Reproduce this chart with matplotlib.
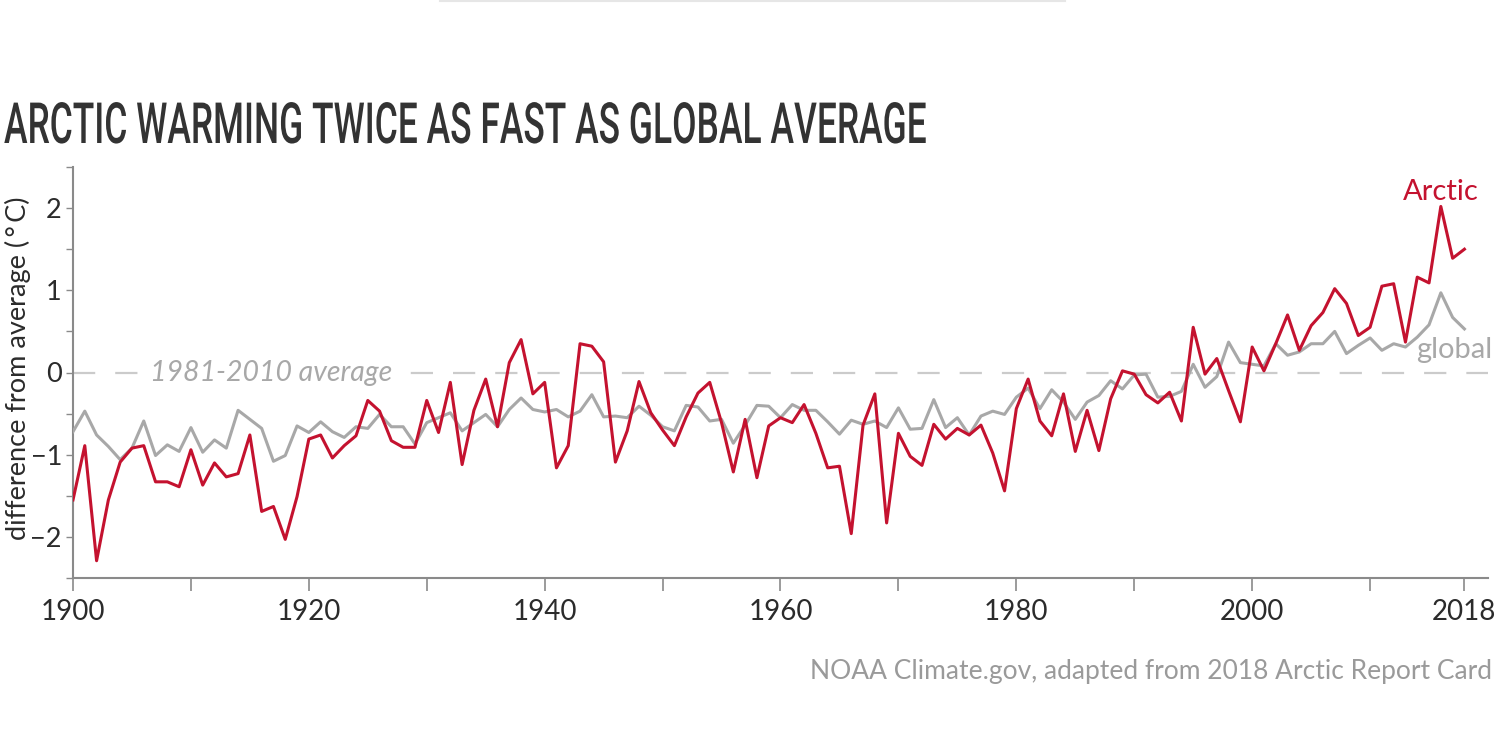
import matplotlib
matplotlib.use("Agg")
import matplotlib.pyplot as plt
from matplotlib.ticker import MultipleLocator, FixedLocator
from matplotlib.patheffects import AbstractPathEffect
from matplotlib.transforms import Affine2D

years = list(range(1900, 2019))

arctic = [
    -1.55, -0.89, -2.29, -1.55, -1.09, -0.92, -0.89, -1.33, -1.33, -1.39,
    -0.94, -1.37, -1.10, -1.27, -1.23, -0.76, -1.69, -1.63, -2.03, -1.51,
    -0.81, -0.76, -1.04, -0.89, -0.77, -0.34, -0.47, -0.83, -0.91, -0.91,
    -0.34, -0.73, -0.12, -1.12, -0.46, -0.08, -0.66, 0.12, 0.40, -0.26,
    -0.12, -1.16, -0.89, 0.35, 0.32, 0.13, -1.09, -0.71, -0.11, -0.49,
    -0.70, -0.89, -0.54, -0.25, -0.12, -0.61, -1.21, -0.57, -1.28, -0.65,
    -0.55, -0.61, -0.39, -0.74, -1.16, -1.14, -1.96, -0.64, -0.26, -1.83,
    -0.74, -1.02, -1.13, -0.63, -0.81, -0.68, -0.76, -0.64, -0.98, -1.44,
    -0.44, -0.08, -0.59, -0.77, -0.26, -0.96, -0.46, -0.95, -0.32, 0.02,
    -0.02, -0.27, -0.37, -0.24, -0.59, 0.55, -0.02, 0.17, -0.22, -0.60,
    0.31, 0.02, 0.35, 0.70, 0.27, 0.57, 0.73, 1.02, 0.84, 0.45,
    0.55, 1.05, 1.08, 0.37, 1.16, 1.09, 2.02, 1.39, 1.50,
]

global_avg = [
    -0.72, -0.47, -0.76, -0.90, -1.06, -0.92, -0.59, -1.01, -0.88, -0.96,
    -0.67, -0.97, -0.82, -0.92, -0.46, -0.57, -0.68, -1.08, -1.01, -0.65,
    -0.73, -0.60, -0.72, -0.79, -0.66, -0.68, -0.51, -0.66, -0.66, -0.87,
    -0.61, -0.55, -0.49, -0.71, -0.61, -0.51, -0.66, -0.45, -0.31, -0.45,
    -0.48, -0.45, -0.54, -0.47, -0.27, -0.54, -0.53, -0.55, -0.41, -0.52,
    -0.66, -0.71, -0.40, -0.42, -0.59, -0.57, -0.86, -0.64, -0.40, -0.41,
    -0.55, -0.39, -0.46, -0.46, -0.60, -0.75, -0.58, -0.63, -0.59, -0.67,
    -0.43, -0.69, -0.68, -0.33, -0.67, -0.55, -0.76, -0.53, -0.47, -0.51,
    -0.30, -0.19, -0.44, -0.21, -0.36, -0.57, -0.36, -0.28, -0.10, -0.20,
    -0.03, -0.02, -0.30, -0.29, -0.23, 0.10, -0.18, -0.05, 0.37, 0.12,
    0.10, 0.08, 0.35, 0.21, 0.25, 0.35, 0.35, 0.50, 0.23, 0.33,
    0.42, 0.27, 0.35, 0.31, 0.43, 0.58, 0.97, 0.67, 0.53,
]

x_ticks = [1900, 1910, 1920, 1930, 1940, 1950, 1960, 1970, 1980, 1990, 2000, 2010, 2018]
x_labels = ["1900", "", "1920", "", "1940", "", "1960", "", "1980", "", "2000", "", "2018"]

RED = "#c4122f"
GREY = "#a8a8a8"
AXIS = "#8a8a8a"
TEXT = "#2b2b2b"
FONT = ["Lato", "DejaVu Sans"]


class Squeeze(AbstractPathEffect):
    """squash text horizontally around x0 (display px) to fake a condensed face"""
    def __init__(self, sx, x0):
        super().__init__()
        self.sx = sx
        self.x0 = x0

    def draw_path(self, renderer, gc, tpath, affine, rgbFace=None):
        t = affine + Affine2D().translate(-self.x0, 0).scale(self.sx, 1).translate(self.x0, 0)
        renderer.draw_path(gc, tpath, t, rgbFace)


fig = plt.figure(figsize=(15, 7.5), dpi=100)
ax = fig.add_axes([73 / 1500, 1 - 578 / 750, (1488 - 73) / 1500, (578 - 167) / 750])

ax.axhline(0, color="#cbcbcb", lw=1.6, dashes=(10, 9), zorder=1)
ax.plot(years, global_avg, color=GREY, lw=2.2, zorder=3)
ax.plot(years, arctic, color=RED, lw=2.2, zorder=4)

ax.set_xlim(1900, 2020)
ax.set_ylim(-2.5, 2.5)

for s in ["top", "right"]:
    ax.spines[s].set_visible(False)
for s in ["left", "bottom"]:
    ax.spines[s].set_color(AXIS)
    ax.spines[s].set_linewidth(1.5)

ax.xaxis.set_major_locator(FixedLocator(x_ticks))
ax.set_xticklabels(x_labels)
ax.yaxis.set_major_locator(MultipleLocator(1))
ax.yaxis.set_minor_locator(MultipleLocator(0.5))
ax.tick_params(axis="x", length=9, width=1.2, color=AXIS, pad=6,
               labelsize=20, labelcolor=TEXT)
ax.tick_params(axis="y", which="both", length=5, width=1.0, color=AXIS, pad=3,
               labelsize=19.5, labelcolor=TEXT)
for lab in ax.get_xticklabels() + ax.get_yticklabels():
    lab.set_family(FONT)

ax.set_ylabel("difference from average (\u2009°\u2009C)", fontsize=19.5,
              color=TEXT, family=FONT)
ax.yaxis.set_label_coords((31 - 73) / 1415, 0.51)

ax.text(1906.5, 0, "1981-2010 average", fontsize=20.5, style="italic",
        color=GREY, family=FONT, va="center", ha="left",
        bbox=dict(facecolor="white", edgecolor="none", pad=2), zorder=2)
ax.text(2019.2, 2.2, "Arctic", fontsize=21, color=RED, family=FONT,
        ha="right", va="center")
ax.text(2020.4, 0.27, "global", fontsize=21, color=GREY, family=FONT,
        ha="right", va="center")

# title: no condensed face installed, so size it to fill the page and squeeze it
title = fig.text(4 / 1500, 1 - 143 / 750, "ARCTIC WARMING TWICE AS FAST AS GLOBAL AVERAGE",
                 fontsize=40, color="#333333", family=["Roboto", "DejaVu Sans"],
                 fontweight="medium", ha="left", va="baseline")
renderer = fig.canvas.get_renderer()
bb = title.get_window_extent(renderer)
title.set_fontsize(40 * 1480 / bb.width)
bb = title.get_window_extent(renderer)
title.set_path_effects([Squeeze(924 / bb.width, bb.x0)])

fig.text(1492 / 1500, 1 - 672 / 750, "NOAA Climate.gov, adapted from 2018 Arctic Report Card",
         fontsize=19, color="#9a9a9a", family=FONT, ha="right", va="center")

fig.add_artist(plt.Line2D([440 / 1500, 1065 / 1500], [0.999, 0.999],
                          color="#e6e6e6", lw=1.5))

fig.savefig("out.png", dpi=100, facecolor="white")
